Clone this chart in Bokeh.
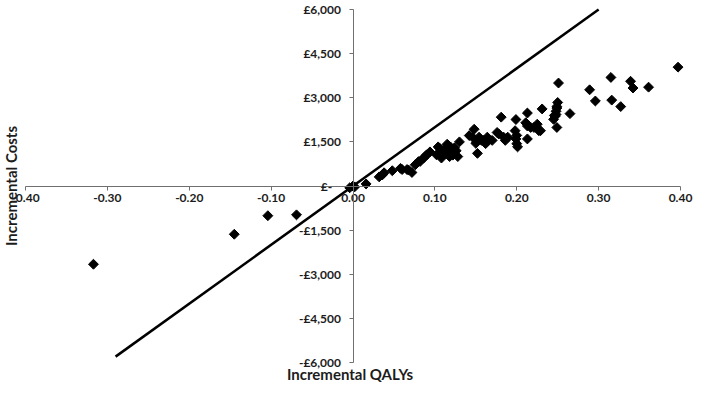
import math
from bokeh.plotting import figure
from bokeh.models import ColumnDataSource, FixedTicker, Range1d, Label
from bokeh.embed import file_html
from bokeh.resources import INLINE

# Incremental QALYs / incremental costs (GBP) of each simulation
qaly = [-0.317, -0.145, -0.104, -0.069,
        -0.004, 0.000, 0.002, 0.016,
        0.032, 0.036, 0.038, 0.048, 0.058, 0.060, 0.066, 0.068, 0.072,
        0.076, 0.080, 0.082, 0.086, 0.088, 0.090, 0.094,
        0.102, 0.104, 0.108, 0.110, 0.112, 0.114, 0.115, 0.116, 0.118, 0.120,
        0.122, 0.124, 0.126, 0.128, 0.130, 0.106, 0.119,
        0.142, 0.146, 0.148, 0.150, 0.152, 0.154, 0.157, 0.160, 0.162, 0.164, 0.170,
        0.176, 0.178, 0.181, 0.184, 0.186, 0.189,
        0.198, 0.199, 0.200, 0.199, 0.200, 0.201,
        0.211, 0.213, 0.213, 0.213, 0.217, 0.221, 0.225, 0.227, 0.229, 0.231,
        0.245, 0.247, 0.248, 0.248, 0.249, 0.249, 0.250, 0.246, 0.249, 0.251, 0.265,
        0.289, 0.296, 0.315, 0.316, 0.327, 0.339, 0.342, 0.361, 0.397]
cost = [-2660, -1640, -1010, -980,
        -60, 0, -30, 70,
        310, 380, 450, 520, 600, 560, 560, 540, 460,
        720, 830, 835, 945, 1000, 1060, 1160,
        1060, 1330, 950, 1200, 1100, 1250, 1420, 1380, 1000, 1150,
        1050, 1300, 1200, 1000, 1500, 1280, 1330,
        1715, 1660, 1930, 1450, 1110, 1660, 1550, 1550, 1440, 1660, 1550,
        1820, 1770, 2340, 1660, 1550, 1660,
        1880, 2260, 1720, 1600, 1440, 1330,
        2150, 2480, 2040, 1600, 1990, 1990, 2100, 1880, 1880, 2620,
        2265, 2375, 2430, 2540, 2650, 2700, 2840, 2400, 1990, 3500, 2460,
        3270, 2890, 3690, 2920, 2700, 3560, 3330, 3360, 4040]

# Willingness-to-pay threshold line (GBP per QALY) and its QALY extent
wtp_per_qaly = 20000
wtp_qaly = [-0.29, 0.30]
wtp_cost = [q * wtp_per_qaly for q in wtp_qaly]

x_ticks = [-0.4, -0.3, -0.2, -0.1, 0.0, 0.1, 0.2, 0.3, 0.4]
x_tick_labels = ["-0.40", "-0.30", "-0.20", "-0.10", "0.00", "0.10", "0.20", "0.30", "0.40"]
y_ticks = [-6000, -4500, -3000, -1500, 0, 1500, 3000, 4500, 6000]
y_tick_labels = ["-£6,000", "-£4,500", "-£3,000", "-£1,500", "£-\u00a0\u00a0\u00a0",
                 "£1,500", "£3,000", "£4,500", "£6,000"]

FONT = "Lato"
TXT = "#1c1c1c"
AXC = "#707070"

# Layout: pixel positions (inside the figure) of the axis ends
W, H = 693, 384
X_LO_PX, X_HI_PX = 25, 680      # where x = -0.4 and x = 0.4 fall
Y_HI_PX, Y_LO_PX = 9, 362       # where y = 6000 and y = -6000 fall (from top)
xmin, xmax = x_ticks[0], x_ticks[-1]
ymin, ymax = y_ticks[0], y_ticks[-1]
xs = (X_HI_PX - X_LO_PX) / (xmax - xmin)
ys = (Y_LO_PX - Y_HI_PX) / (ymax - ymin)
x_range = Range1d(xmin - X_LO_PX / xs, xmax + (W - X_HI_PX) / xs)
y_range = Range1d(ymin - (H - Y_LO_PX) / ys, ymax + Y_HI_PX / ys)

p = figure(width=W, height=H, output_backend="svg", toolbar_location=None, title=None,
           x_range=x_range, y_range=y_range,
           min_border_left=0, min_border_right=0, min_border_top=0, min_border_bottom=0)
p.outline_line_color = None
p.grid.visible = False
p.background_fill_color = "white"
p.border_fill_color = "white"

for ax, ticks, labels in ((p.xaxis[0], x_ticks, x_tick_labels), (p.yaxis[0], y_ticks, y_tick_labels)):
    ax.fixed_location = 0
    ax.bounds = (ticks[0], ticks[-1])
    ax.ticker = FixedTicker(ticks=ticks)
    ax.major_label_overrides = dict(zip(ticks, labels))
    ax.axis_line_color = AXC
    ax.axis_line_width = 1
    ax.major_tick_line_color = AXC
    ax.major_tick_in = 0
    ax.major_tick_out = 4
    ax.minor_tick_line_color = None
    ax.major_label_text_font = FONT
    ax.major_label_text_font_style = "bold"
    ax.major_label_text_font_size = "12px"
    ax.major_label_text_color = TXT
p.xaxis.major_label_standoff = 4
p.yaxis.major_label_standoff = 8

src = ColumnDataSource(dict(x=qaly, y=cost))
p.line(wtp_qaly, wtp_cost, line_color="black", line_width=2.5)
p.scatter("x", "y", source=src, marker="square", angle=math.pi / 4, size=7,
          fill_color="black", line_color="black")

p.add_layout(Label(x=xmin, y=0, x_offset=-15, text="Incremental Costs", angle=math.pi / 2,
                   text_align="center", text_baseline="middle", text_font=FONT,
                   text_font_style="bold", text_font_size="15px", text_color=TXT))
p.add_layout(Label(x=0, y=ymin, x_offset=-3, y_offset=-11, text="Incremental QALYs",
                   text_align="center", text_baseline="middle", text_font=FONT,
                   text_font_style="bold", text_font_size="15px", text_color=TXT))

open("out.html", "w").write(file_html(p, INLINE))
